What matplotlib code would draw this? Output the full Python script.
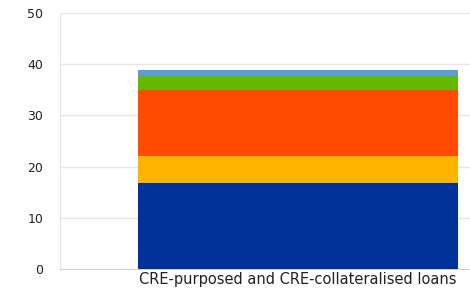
import matplotlib
matplotlib.use("Agg")
import matplotlib.pyplot as plt

categories = ["CRE-purposed and CRE-collateralised loans"]
series_names = ["s1", "s2", "s3", "s4", "s5"]
series_values = [[16.7], [5.4], [12.9], [2.7], [1.2]]
colors = ["#003299", "#FFB400", "#FF4B00", "#65B800", "#5C9BD5"]
yticks = [0, 10, 20, 30, 40, 50]

plt.rcParams['font.family'] = ['DejaVu Sans']
fig = plt.figure(figsize=(4.7, 2.9), dpi=100)
ax = fig.add_axes([60/470, 1-269/290, 1-60/470, (269-13)/290])

x = list(range(len(categories)))
bottom = [0.0]*len(categories)
for vals, c in zip(series_values, colors):
    ax.bar(x, vals, width=0.78, bottom=bottom, color=c, zorder=3, linewidth=0)
    bottom = [b+v for b, v in zip(bottom, vals)]

ax.set_ylim(0, 50)
ax.set_xlim(-0.58, 0.42)
ax.set_yticks(yticks)
ax.set_xticks(x)
ax.set_xticklabels(categories, fontsize=10.5)
ax.yaxis.grid(True, color="#e6e6e6", linewidth=1, zorder=0)
for s in ["top", "right"]:
    ax.spines[s].set_visible(False)
ax.spines["left"].set_color("#e6e6e6")
ax.spines["bottom"].set_color("#d0d0d0")
ax.tick_params(axis="both", length=0, colors="#222222")
ax.tick_params(axis="x", pad=2)
ax.tick_params(axis="y", labelsize=9, pad=12)
fig.savefig("out.png", dpi=100)
